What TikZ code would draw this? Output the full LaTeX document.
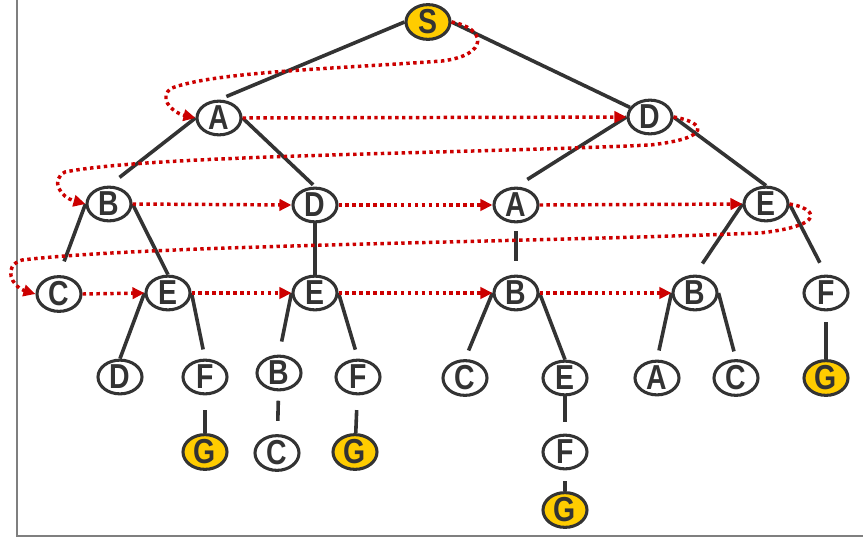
\documentclass[tikz,border=0pt]{standalone}
\usepackage{fontspec}
\setmainfont{Liberation Sans}[FakeStretch=0.82]
\usetikzlibrary{arrows.meta,shapes.geometric}
\definecolor{ink}{HTML}{333333}
\definecolor{goal}{HTML}{FFCC00}
\definecolor{trace}{HTML}{CC0000}
\definecolor{frame}{HTML}{7F7F7F}
\tikzset{
  st/.style={ellipse, draw=ink, line width=2.3pt, minimum width=33pt, minimum height=22pt,
    inner sep=0pt, text=ink, font=\fontsize{26}{26}\selectfont\bfseries},
  goalst/.style={st, fill=goal},
  link/.style={draw=ink, line width=2.7pt},
  trav/.style={draw=trace, line width=2.6pt, dash pattern=on 2.6pt off 2.6pt,
    -{Triangle[length=9pt,width=8.5pt]}}
}
\begin{document}
\begin{tikzpicture}[x=0.75pt,y=-0.75pt]
\useasboundingbox (0,0) rectangle (863,542);
\draw[frame, line width=1.5pt] (17,0) -- (17,536) -- (863,536);

% nodes, named by their path from the root
\node[goalst] (s) at (428,22) {S};
\node[st] (a) at (219,118) {A};
\node[st] (d) at (650,117) {D};
\node[st] (ab) at (109,204) {B};
\node[st] (ad) at (315,205) {D};
\node[st] (da) at (516,205) {A};
\node[st] (de) at (766,204) {E};
\node[st] (abc) at (59,294) {C};
\node[st] (abe) at (168,293) {E};
\node[st] (ade) at (315,293) {E};
\node[st] (dab) at (516,293) {B};
\node[st] (deb) at (695,293) {B};
\node[st] (def) at (826,293) {F};
\node[st] (abed) at (120,377) {D};
\node[st] (abef) at (205,377) {F};
\node[st] (adeb) at (279,373) {B};
\node[st] (adef) at (358,377) {F};
\node[st] (dabc) at (465,378) {C};
\node[st] (dabe) at (565,378) {E};
\node[st] (deba) at (657,378) {A};
\node[st] (debc) at (736,378) {C};
\node[goalst] (defg) at (826,378) {G};
\node[goalst] (abefg) at (205,452) {G};
\node[st] (adebc) at (277,453) {C};
\node[goalst] (adefg) at (355,452) {G};
\node[st] (dabef) at (565,452) {F};
\node[goalst] (dabefg) at (565,510) {G};

% tree edges
\draw[link, shorten >=6pt] (s.west) -- (a.north);
\draw[link] (s.east) -- (d);
\draw[link, shorten >=10pt] (a.west) -- (ab.north);
\draw[link, shorten >=2pt] (a.east) -- (ad.north);
\draw[link, shorten >=10pt] (d.west) -- (da.north);
\draw[link] (d.east) -- (de.north);
\draw[link, shorten >=11pt] (ab.west) -- (abc.north);
\draw[link] (ab.east) -- (abe.north);
\draw[link] (ad) -- (ade);
\draw[link, shorten <=6pt, shorten >=10pt] (da) -- (dab);
\draw[link, shorten >=10pt] (de.west) -- (deb.north);
\draw[link, shorten >=10pt] (de.east) -- (def.north);
\draw[link] (abe.west) -- (abed.north);
\draw[link, shorten >=7pt] (abe.east) -- (abef.north);
\draw[link, shorten >=10pt] (ade.west) -- (adeb.north);
\draw[link, shorten >=7pt] (ade.east) -- (adef.north);
\draw[link, shorten >=7pt] (dab.west) -- (dabc.north);
\draw[link] (dab.east) -- (dabe.north);
\draw[link, shorten >=7pt] (deb.west) -- (deba.north);
\draw[link, shorten >=6pt] (deb.east) -- (debc.north);
\draw[link, shorten <=8pt] (def) -- (defg);
\draw[link, shorten <=11pt] (abef) -- (abefg);
\draw[link, shorten <=7pt, shorten >=10pt] (adeb) -- (adebc);
\draw[link, shorten <=11pt] (adef) -- (adefg);
\draw[link, shorten >=9pt] (dabe) -- (dabef);
\draw[link, shorten <=8pt] (dabef) -- (dabefg);

% breadth-first order
\draw[trav] (s.east) .. controls (486,28) and (490,55) .. (442,61)
  .. controls (330,69) and (215,72) .. (172,88)
  .. controls (158,96) and (170,112) .. (a.west);
\draw[trav] (a.east) -- (d.west);
\draw[trav] (d.east) .. controls (705,122) and (714,138) .. (650,145)
  .. controls (450,154) and (150,155) .. (65,172)
  .. controls (50,180) and (60,197) .. (ab.west);
\draw[trav] (ab.east) -- (ad.west);
\draw[trav] (ad.east) -- (da.west);
\draw[trav] (da.east) -- (de.west);
\draw[trav] (de.east) .. controls (815,208) and (830,225) .. (760,233)
  .. controls (500,243) and (150,245) .. (22,260)
  .. controls (2,266) and (12,287) .. (abc.west);
\draw[trav] (abc.east) -- (abe.west);
\draw[trav] (abe.east) -- (ade.west);
\draw[trav] (ade.east) -- (dab.west);
\draw[trav] (dab.east) -- (deb.west);
\end{tikzpicture}
\end{document}
